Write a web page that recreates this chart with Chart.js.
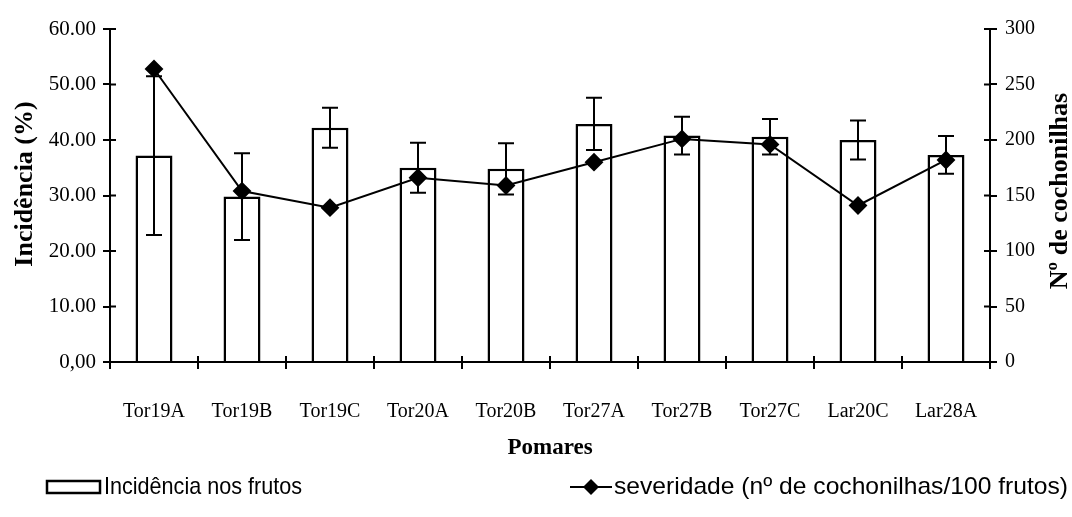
<!DOCTYPE html>
<html>
<head>
<meta charset="utf-8">
<script src="https://cdn.jsdelivr.net/npm/chart.js@4"></script>
<style>
  html, body { margin: 0; padding: 0; background: #fff; }
  #wrap { width: 1072px; height: 517px; }
</style>
</head>
<body>
<div id="wrap"><canvas id="chart" width="1072" height="517"></canvas></div>
<script>
// Pomares (categories)
const categories = ['Tor19A', 'Tor19B', 'Tor19C', 'Tor20A', 'Tor20B', 'Tor27A', 'Tor27B', 'Tor27C', 'Lar20C', 'Lar28A'];
// Incidência nos frutos (%) and its error bar half-length
const incidencia = [37.2, 29.8, 42.2, 35.0, 34.8, 42.9, 40.8, 40.6, 40.0, 37.3];
const incidenciaErro = [14.3, 7.8, 3.6, 4.5, 4.6, 4.7, 3.4, 3.2, 3.5, 3.4];
// severidade (nº de cochonilhas/100 frutos)
const severidade = [264, 154, 139, 166, 159, 180, 201, 196, 141, 182];
// tick labels as printed
const leftTickLabels = ['0,00', '10.00', '20.00', '30.00', '40.00', '50.00', '60.00'];
const rightTickLabels = ['0', '50', '100', '150', '200', '250', '300'];

const SERIF = '"Liberation Serif", "Times New Roman", serif';
const NARROW = '"Liberation Sans Narrow", "Liberation Sans", sans-serif';

// draws the error bars on top of the bar dataset
const errorBars = {
    id: 'errorBars',
    afterDatasetDraw(chart, args) {
        if (args.index !== 0) return;
        const ctx = chart.ctx;
        const y = chart.scales.y;
        const meta = chart.getDatasetMeta(0);
        ctx.save();
        ctx.strokeStyle = '#000';
        ctx.lineWidth = 2;
        meta.data.forEach((bar, i) => {
            const v = incidencia[i], e = incidenciaErro[i];
            const top = y.getPixelForValue(v + e);
            const bot = y.getPixelForValue(v - e);
            ctx.beginPath();
            ctx.moveTo(bar.x, top); ctx.lineTo(bar.x, bot);
            ctx.moveTo(bar.x - 8, top); ctx.lineTo(bar.x + 8, top);
            ctx.moveTo(bar.x - 8, bot); ctx.lineTo(bar.x + 8, bot);
            ctx.stroke();
        });
        ctx.restore();
    }
};

function fitText(ctx, text, x, y, w) {
    const m = ctx.measureText(text).width;
    ctx.save();
    ctx.translate(x, y);
    ctx.scale(w / m, 1);
    ctx.fillText(text, 0, 0);
    ctx.restore();
}

// axis titles, inner tick marks and legend
const decorations = {
    id: 'decorations',
    afterDraw(chart) {
        const ctx = chart.ctx;
        const area = chart.chartArea;
        const { x, y, y1 } = chart.scales;
        ctx.save();
        ctx.strokeStyle = '#000';
        ctx.lineWidth = 2;
        // tick marks cross the axes (Excel style)
        ctx.beginPath();
        y.ticks.forEach(t => {
            const py = y.getPixelForValue(t.value);
            ctx.moveTo(area.left, py); ctx.lineTo(area.left + 6, py);
        });
        y1.ticks.forEach(t => {
            const py = y1.getPixelForValue(t.value);
            ctx.moveTo(area.right - 6, py); ctx.lineTo(area.right, py);
        });
        for (let i = 1; i < categories.length; i++) {
            const px = (x.getPixelForValue(i - 1) + x.getPixelForValue(i)) / 2;
            ctx.moveTo(px, area.bottom); ctx.lineTo(px, area.bottom - 6);
        }
        ctx.stroke();

        ctx.fillStyle = '#000';
        ctx.textAlign = 'center';
        ctx.textBaseline = 'middle';
        ctx.font = 'bold 26px ' + SERIF;
        // left title
        ctx.save();
        ctx.translate(25, 184);
        ctx.rotate(-Math.PI / 2);
        ctx.fillText('Incidência (%)', 0, 0);
        ctx.restore();
        // right title
        ctx.save();
        ctx.translate(1060, 191);
        ctx.rotate(-Math.PI / 2);
        ctx.fillText('Nº de cochonilhas', 0, 0);
        ctx.restore();
        // x title
        ctx.font = 'bold 23px ' + SERIF;
        ctx.fillText('Pomares', (area.left + area.right) / 2, 448);

        // legend
        const ly = 487;
        ctx.lineWidth = 2.5;
        ctx.strokeRect(47, ly - 6, 53, 12);
        ctx.textAlign = 'left';
        ctx.font = '24px ' + NARROW;
        fitText(ctx, 'Incidência nos frutos', 104, ly, 198);
        ctx.lineWidth = 2;
        ctx.beginPath();
        ctx.moveTo(570, ly); ctx.lineTo(612, ly);
        ctx.stroke();
        ctx.beginPath();
        ctx.moveTo(591, ly - 8); ctx.lineTo(599, ly); ctx.lineTo(591, ly + 8); ctx.lineTo(583, ly);
        ctx.closePath();
        ctx.fill();
        fitText(ctx, 'severidade (nº de cochonilhas/100 frutos)', 614, ly, 454);
        ctx.restore();
    }
};

new Chart(document.getElementById('chart'), {
    data: {
        labels: categories,
        datasets: [
            {
                type: 'bar',
                label: 'Incidência nos frutos',
                data: incidencia,
                backgroundColor: '#fff',
                borderColor: '#000',
                borderWidth: 2.5,
                barPercentage: 0.42,
                categoryPercentage: 1,
                yAxisID: 'y',
                order: 2
            },
            {
                type: 'line',
                label: 'severidade (nº de cochonilhas/100 frutos)',
                data: severidade,
                borderColor: '#000',
                borderWidth: 2,
                backgroundColor: '#000',
                pointStyle: 'rectRot',
                pointRadius: 8,
                pointBackgroundColor: '#000',
                pointBorderColor: '#000',
                tension: 0,
                yAxisID: 'y1',
                order: 1
            }
        ]
    },
    options: {
        responsive: false,
        animation: false,
        layout: { padding: { top: 29, left: 0, right: 0, bottom: 0 } },
        plugins: {
            legend: { display: false },
            tooltip: { enabled: false }
        },
        scales: {
            x: {
                offset: true,
                grid: { offset: true, drawOnChartArea: false, tickLength: 7, color: '#000', lineWidth: 2 },
                border: { color: '#000', width: 2 },
                ticks: { color: '#000', font: { family: SERIF, size: 20 }, padding: 31, maxRotation: 0 },
                afterFit(scale) { scale.height = 155; }
            },
            y: {
                position: 'left',
                min: 0,
                max: 60,
                grid: { drawOnChartArea: false, tickLength: 7, color: '#000', lineWidth: 2 },
                border: { color: '#000', width: 2 },
                ticks: {
                    stepSize: 10,
                    color: '#000',
                    padding: 7,
                    font: { family: SERIF, size: 21 },
                    callback: (v) => leftTickLabels[Math.round(v / 10)]
                },
                afterFit(scale) { scale.width = 110; }
            },
            y1: {
                position: 'right',
                min: 0,
                max: 300,
                grid: { drawOnChartArea: false, tickLength: 7, color: '#000', lineWidth: 2 },
                border: { color: '#000', width: 2 },
                ticks: {
                    stepSize: 50,
                    color: '#000',
                    padding: 8,
                    font: { family: SERIF, size: 20 },
                    callback: (v) => rightTickLabels[Math.round(v / 50)]
                },
                afterFit(scale) { scale.width = 82; }
            }
        }
    },
    plugins: [errorBars, decorations]
});
</script>
</body>
</html>
